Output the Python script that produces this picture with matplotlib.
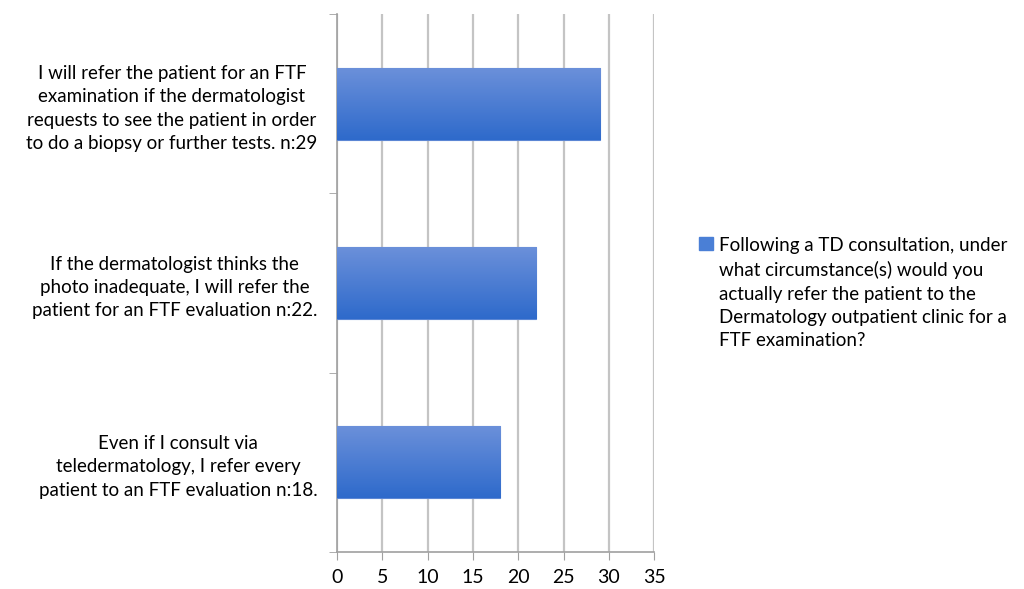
"""Horizontal bar chart: TD consultation referral circumstances"""

import matplotlib.pyplot as plt
import numpy as np
from matplotlib.colors import LinearSegmentedColormap
from matplotlib.patches import Patch

plt.rcParams['font.family'] = ['Lato', 'DejaVu Sans']

categories = [
    'I will refer the patient for an FTF\nexamination if the dermatologist\nrequests to see the patient in order\nto do a biopsy or further tests. n:29',
    'If the dermatologist thinks the\nphoto inadequate, I will refer the\npatient for an FTF evaluation n:22.',
    'Even if I consult via\nteledermatology, I refer every\npatient to an FTF evaluation n:18.',
]
values = [29, 22, 18]
x_ticks = [0, 5, 10, 15, 20, 25, 30, 35]
series_label = ('Following a TD consultation, under\nwhat circumstance(s) would you\n'
                'actually refer the patient to the\nDermatology outpatient clinic for a\nFTF examination?')

fig = plt.figure(figsize=(10.24, 5.89), dpi=100)
ax = fig.add_axes([0.329, 0.063, 0.31, 0.913])

y = np.arange(len(values))[::-1]
bars = ax.barh(y, values, height=0.4, color='#4a7fd6', zorder=3)

# vertical gradient fill for each bar (light top, darker bottom)
grad = np.linspace(0, 1, 256).reshape(-1, 1)
cmap = LinearSegmentedColormap.from_list('bar', ['#6b90da', '#2e6acb'])
for bar in bars:
    x0, y0 = bar.get_x(), bar.get_y()
    w, h = bar.get_width(), bar.get_height()
    im = ax.imshow(grad, cmap=cmap, aspect='auto', extent=[x0, x0 + w, y0, y0 + h],
                   origin='upper', zorder=4)
    im.set_clip_path(bar)
    bar.set_edgecolor('#5b86d4')
    bar.set_linewidth(0.8)

ax.set_xlim(0, 35)
ax.set_ylim(-0.5, len(values) - 0.5)
ax.set_xticks(x_ticks)
ax.set_xticklabels([str(t) for t in x_ticks], fontsize=14)
ax.set_yticks(y)
ax.set_yticklabels(categories, fontsize=13.5, multialignment='center', linespacing=1.45)
ax.set_yticks(np.arange(len(values) + 1) - 0.5, minor=True)

ax.tick_params(axis='y', which='major', length=0, pad=14)
ax.tick_params(axis='y', which='minor', length=6, color='#a0a0a0', direction='out')
ax.tick_params(axis='x', length=6, color='#a0a0a0', direction='out', pad=6)

ax.grid(True, axis='x', color='#c4c4c4', linewidth=1.6, zorder=0)
for side in ['top', 'right']:
    ax.spines[side].set_visible(False)
for side in ['left', 'bottom']:
    ax.spines[side].set_color('#a0a0a0')
    ax.spines[side].set_linewidth(1.2)

handle = Patch(facecolor='#4a7fd6', edgecolor='#4a7fd6')
leg = fig.legend([handle], [series_label], loc='upper left', bbox_to_anchor=(0.683, 0.597),
                 frameon=False, fontsize=13.5, handlelength=0.7, handleheight=0.7,
                 handletextpad=0.35, borderaxespad=0, borderpad=0)
for t in leg.get_texts():
    t.set_linespacing(1.45)
# put the square next to the first line of the label
for hp in leg.findobj(lambda o: o.__class__.__name__ == 'HPacker'):
    hp.align = 'top'

fig.savefig('out.png', dpi=100)
